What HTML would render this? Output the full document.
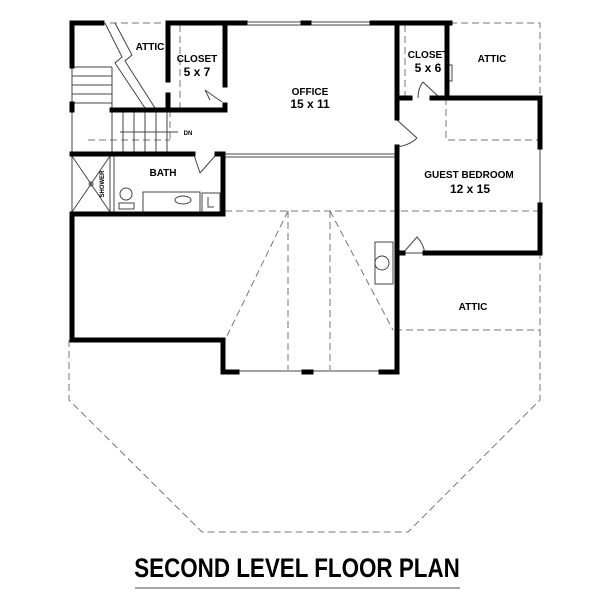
<!DOCTYPE html>
<html><head><style>html,body{margin:0;padding:0;background:#fff}svg{display:block}</style></head>
<body>
<svg width="600" height="600" viewBox="0 0 600 600" xmlns="http://www.w3.org/2000/svg" font-family="Liberation Sans, Arial, sans-serif">
<g fill="none" stroke="#777" stroke-width="1" stroke-dasharray="7,4">
  <polyline points="69,340 69,400 202,532 408,532 540,400 540,23 450,23"/>
  <line x1="225" y1="211" x2="540" y2="211"/>
  <polyline points="288,211 225,340"/>
  <line x1="288" y1="211" x2="288" y2="370"/>
  <line x1="330" y1="211" x2="330" y2="370"/>
  <polyline points="330,211 393,330"/>
  <line x1="395" y1="330" x2="540" y2="330"/>
  <polyline points="446,98 446,140 540,140"/>
  <line x1="110" y1="23" x2="165" y2="23"/>
  <line x1="88" y1="140" x2="170" y2="140"/>
  <line x1="170" y1="110" x2="170" y2="140"/>
  <line x1="180" y1="25" x2="180" y2="108"/>
  <line x1="405" y1="25" x2="405" y2="96"/>
</g>
<g fill="none" stroke="#444" stroke-width="1">
  <line x1="72" y1="67" x2="112" y2="67"/><line x1="72" y1="76" x2="112" y2="76"/><line x1="72" y1="85" x2="112" y2="85"/><line x1="72" y1="94" x2="112" y2="94"/><line x1="72" y1="103" x2="112" y2="103"/>
  <line x1="112" y1="67" x2="112" y2="110"/>
  <line x1="112" y1="110" x2="112" y2="152"/>
  <line x1="123" y1="110" x2="123" y2="152"/><line x1="134" y1="110" x2="134" y2="152"/><line x1="145" y1="110" x2="145" y2="152"/><line x1="156" y1="110" x2="156" y2="152"/><line x1="167" y1="110" x2="167" y2="152"/>
  <line x1="120" y1="132" x2="178" y2="132"/>
  <polyline points="105,23 122,57 115,63 145,108"/>
  <polyline points="115,23 132,55 125,61 155,108"/>
  <line x1="225" y1="154" x2="395" y2="154"/><line x1="225" y1="157" x2="395" y2="157"/>
  <line x1="238" y1="371" x2="305" y2="371"/><line x1="311" y1="371" x2="380" y2="371"/>
  <line x1="245" y1="22" x2="372" y2="22"/><line x1="245" y1="25" x2="372" y2="25"/>
  <rect x="447" y="65" width="5" height="16"/>
  <line x1="540" y1="147" x2="540" y2="205"/>
  <line x1="72" y1="23" x2="72" y2="214"/>
  <line x1="205" y1="90" x2="222" y2="102"/><path d="M205,90 Q208,96 210,100"/>
  <line x1="423" y1="82" x2="440" y2="98"/><path d="M423,82 Q418,88 418,98"/>
  <line x1="397" y1="120" x2="417" y2="138"/><path d="M417,138 Q410,145 397,147"/>
  <line x1="193" y1="152" x2="200" y2="173"/><line x1="200" y1="173" x2="215" y2="156"/>
  <path d="M403,253 L417,237 Q423,243 425,253 Z"/>
  <rect x="72" y="156" width="38" height="56"/><line x1="72" y1="156" x2="110" y2="212"/><line x1="110" y1="156" x2="72" y2="212"/><circle cx="91" cy="184" r="2"/>
  <line x1="110" y1="156" x2="110" y2="212"/><line x1="114" y1="156" x2="114" y2="212"/>
  <circle cx="126" cy="194" r="6"/><rect x="119" y="203" width="15" height="6"/>
  <rect x="143" y="192" width="57" height="20"/><ellipse cx="183" cy="200" rx="8" ry="4"/>
  <rect x="202" y="193" width="18" height="19"/><path d="M208,197 v10 h6"/>
  <rect x="375" y="242" width="18" height="42"/><circle cx="382" cy="263" r="7"/>
</g>
<g fill="none" stroke="#000" stroke-width="5" stroke-linejoin="miter" stroke-linecap="square">
  <polyline points="72,23 102,23"/>
  <polyline points="72,23 72,66"/>
  <polyline points="72,104 72,110"/>
  <polyline points="168,23 245,23"/>
  <polyline points="303,23 309,23"/>
  <polyline points="168,23 168,80"/><polyline points="168,95 168,110 225,110"/>
  <polyline points="112,110 168,110"/>
  <polyline points="225,23 225,85"/><polyline points="225,105 225,110"/>
  <polyline points="372,23 450,23"/>
  <polyline points="397,23 397,98 410,98"/><polyline points="397,98 397,118"/>
  <polyline points="447,23 447,98 540,98 540,147"/>
  <polyline points="432,98 447,98"/>
  <polyline points="540,205 540,253 425,253"/>
  <polyline points="397,147 397,372"/><polyline points="397,253 403,253"/>
  <polyline points="72,154 193,154"/><polyline points="217,154 223,154 223,214 72,214"/>
  <polyline points="72,214 72,340 223,340 223,372 237,372"/>
  <polyline points="304,372 311,372"/><polyline points="381,372 397,372"/>
</g>
<g font-weight="bold" fill="#000" text-anchor="middle">
  <text x="150" y="50" font-size="10">ATTIC</text>
  <text x="197" y="62" font-size="10">CLOSET</text>
  <text x="197" y="76" font-size="12">5 x 7</text>
  <text x="310" y="95" font-size="10">OFFICE</text>
  <text x="310" y="108" font-size="12">15 x 11</text>
  <text x="428" y="58" font-size="10">CLOSET</text>
  <text x="428" y="72" font-size="12">5 x 6</text>
  <text x="492" y="62" font-size="10">ATTIC</text>
  <text x="469" y="178" font-size="10">GUEST BEDROOM</text>
  <text x="470" y="193" font-size="12">12 x 15</text>
  <text x="163" y="176" font-size="10">BATH</text>
  <text x="473" y="310" font-size="10">ATTIC</text>
  <text x="188" y="135" font-size="6">DN</text>
  <text transform="translate(104,184) rotate(-90)" font-size="6">SHOWER</text>
  <text x="297" y="577" font-size="27" transform="translate(297,0) scale(0.83,1) translate(-297,0)">SECOND LEVEL FLOOR PLAN</text>
</g>
<line x1="135" y1="588" x2="460" y2="588" stroke="#888" stroke-width="1.5"/>
</svg>
</body></html>
